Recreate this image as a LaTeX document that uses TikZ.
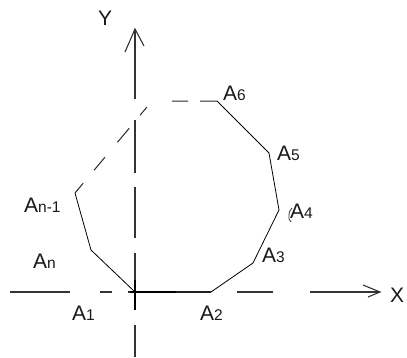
\documentclass[tikz,border=0pt]{standalone}
\usepackage{fontspec}
\setmainfont{Liberation Sans}
\newcommand{\subtxt}[1]{{\fontsize{15.5}{16}\selectfont #1}}
\begin{document}
\begin{tikzpicture}[x=1pt,y=-1pt,
  axis/.style={line width=1.1pt, draw=black!80, line cap=butt},
  edge/.style={line width=0.8pt, draw=black},
  polydash/.style={line width=1pt, draw=black!85,
    dash pattern=on 17pt off 12pt on 16pt off 28pt on 10.5pt off 17pt on 18.3pt off 19.5pt on 17pt off 17pt on 13pt off 20pt},
  ydash/.style={dash pattern=on 32pt off 15pt on 57pt off 15pt on 51pt off 14pt on 53pt off 21pt on 70pt off 100pt},
  xdash/.style={dash pattern=on 60pt off 30pt on 12pt off 16pt on 83pt off 26pt on 36pt off 37pt on 70pt off 100pt},
  bold/.style={line width=2.6pt, draw=black},
  stray/.style={line width=0.8pt, draw=black!80},
  lab/.style={inner sep=0pt, anchor=base west, text=black!90, font=\fontsize{21}{21}\selectfont},
]
\useasboundingbox (0,0) rectangle (407,357);
% polygon vertices
\coordinate (A1) at (135,292);
\coordinate (A2) at (211,292);
\coordinate (A3) at (253,263);
\coordinate (A4) at (279,210);
\coordinate (A5) at (269,153);
\coordinate (A6) at (217,101);
\coordinate (C)  at (152,101);
\coordinate (An1) at (75,193);
\coordinate (An) at (91,250);
% axes
\coordinate (yBot) at (135,357);
\coordinate (yTop) at (135,29);
\coordinate (yHL) at (125,52);
\coordinate (yHR) at (144,46);
\coordinate (xLeft) at (10,292);
\coordinate (xTip) at (380,292);
\coordinate (xHU) at (363,285);
\coordinate (xHD) at (368,297);
\coordinate (vT) at (135,280);
\coordinate (vB) at (135,310);
\coordinate (hL) at (130,292);
\coordinate (hR) at (176,292);
% stray pen mark at A4 label
\coordinate (s1) at (292,208);
\coordinate (s2) at (289,219);
\coordinate (s3) at (291,222);

\draw[axis, ydash] (yBot) -- (yTop);
\draw[axis] (yHL) -- (yTop) -- (yHR);
\draw[axis, xdash] (xLeft) -- (xTip);
\draw[axis] (xHU) -- (xTip) -- (xHD);
\draw[bold] (vT) -- (vB);
\draw[bold] (hL) -- (hR);

% polygon
\draw[edge] (A6) -- (A5) -- (A4) -- (A3) -- (A2) -- (A1) -- (An) -- (An1);
\draw[polydash] (A6) -- (C) -- (An1);

% labels
\node[lab] (lY) at (98,25) {Y};
\node[lab] (lX) at (390,302) {X};
\node[lab] (l6) at (223,100) {A\subtxt{6}};
\node[lab] (l5) at (277,160) {A\subtxt{5}};
\node[lab] (l4) at (290,218) {A\subtxt{4}};
\node[lab] (l3) at (262,262) {A\subtxt{3}};
\node[lab] (l2) at (200,320) {A\subtxt{2}};
\node[lab] (l1) at (72,320) {A\subtxt{1}};
\node[lab] (ln) at (33,268) {A\subtxt{n}};
\node[lab] (ln1) at (24,212) {A\subtxt{n-1}};
\draw[stray] (s1) .. controls (289,212) .. (s2) -- (s3);
\end{tikzpicture}
\end{document}
